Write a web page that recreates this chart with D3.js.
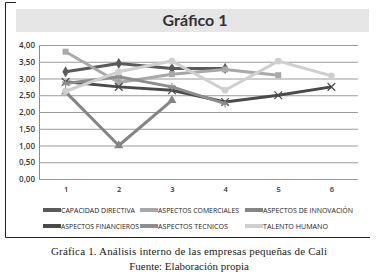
<!DOCTYPE html>
<html>
<head>
<meta charset="utf-8">
<script src="https://cdn.jsdelivr.net/npm/d3@7"></script>
<style>
  body { margin: 0; background: #fff; }
  svg { display: block; }
</style>
</head>
<body>
<svg id="chart" width="376" height="277"></svg>
<script>
// Datos
const categorias = [1, 2, 3, 4, 5, 6];
const capacidadDirectiva = [3.2, 3.45, 3.3, 3.3];
const aspectosComerciales = [3.8, 2.88, 3.13, 3.27, 3.1];
const aspectosInnovacion = [2.6, 1.0, 2.35];
const aspectosFinancieros = [2.9, 2.75, 2.65, 2.3, 2.5, 2.75];
const aspectosTecnicos = [2.85, 3.05, 2.75, 2.25];
const talentoHumano = [2.62, 3.2, 3.52, 2.65, 3.52, 3.08];
const yTicks = [0, 0.5, 1, 1.5, 2, 2.5, 3, 3.5, 4];

const series = [
  { name: "CAPACIDAD DIRECTIVA", values: capacidadDirectiva, color: "#5a5a5a", symbol: d3.symbolDiamond },
  { name: "ASPECTOS COMERCIALES", values: aspectosComerciales, color: "#a8a8a8", symbol: d3.symbolSquare },
  { name: "ASPECTOS DE INNOVACIÓN", values: aspectosInnovacion, color: "#858585", symbol: d3.symbolTriangle },
  { name: "ASPECTOS FINANCIEROS", values: aspectosFinancieros, color: "#4a4a4a", symbol: d3.symbolX },
  { name: "ASPECTOS TECNICOS", values: aspectosTecnicos, color: "#8e8e8e", symbol: d3.symbolAsterisk },
  { name: "TALENTO HUMANO", values: talentoHumano, color: "#cfcfcf", symbol: d3.symbolCircle }
];

const svg = d3.select("#chart");
const sans = "'Open Sans', 'DejaVu Sans', sans-serif";

// Marco de la figura
svg.append("path")
  .attr("d", "M16,2.5 H5.5 V237.5 H370")
  .attr("fill", "none")
  .attr("stroke", "#222")
  .attr("stroke-width", 1);

// Barra de título
svg.append("rect")
  .attr("x", 16).attr("y", 9).attr("width", 353).attr("height", 23)
  .attr("fill", "#e6e6e6");
svg.append("text")
  .attr("x", 195).attr("y", 26)
  .attr("text-anchor", "middle")
  .attr("font-family", "Lato, 'Open Sans', sans-serif")
  .attr("font-weight", "bold")
  .attr("font-size", 16)
  .attr("fill", "#333")
  .text("Gráfico 1");

const x = d3.scalePoint().domain(categorias).range([39, 358]).padding(0.5);
const y = d3.scaleLinear().domain([0, 4]).range([179, 45]);
const fmt = d3.formatLocale({ decimal: ",", thousands: ".", grouping: [3], currency: ["", ""] }).format(".2f");

// Eje Y con líneas de cuadrícula
const gy = svg.append("g")
  .attr("transform", "translate(39,0)")
  .call(d3.axisLeft(y).tickValues(yTicks).tickFormat(fmt).tickSize(-319).tickSizeOuter(0).tickPadding(4));
gy.select(".domain").attr("stroke", "#8a8a8a");
gy.selectAll(".tick line").attr("stroke", "#9a9a9a");
gy.selectAll(".tick text")
  .attr("font-family", sans)
  .attr("font-size", 8)
  .attr("font-weight", 600)
  .attr("fill", "#333");

// Eje X
const gx = svg.append("g")
  .attr("transform", "translate(0,183)")
  .call(d3.axisBottom(x).tickSize(0).tickPadding(4));
gx.select(".domain").remove();
gx.selectAll(".tick text")
  .attr("font-family", sans)
  .attr("font-size", 7.5)
  .attr("font-weight", 600)
  .attr("fill", "#333");

// Líneas y marcadores
const line = d3.line().x((d, i) => x(categorias[i])).y(d => y(d));

series.forEach(s => {
  svg.append("path")
    .datum(s.values)
    .attr("fill", "none")
    .attr("stroke", s.color)
    .attr("stroke-width", 3)
    .attr("stroke-linejoin", "round")
    .attr("d", line);

  const stroked = s.symbol === d3.symbolX || s.symbol === d3.symbolAsterisk;
  svg.selectAll(null)
    .data(s.values)
    .join("path")
    .attr("transform", (d, i) => `translate(${x(categorias[i])},${y(d)})`)
    .attr("d", d3.symbol(s.symbol, stroked ? 40 : 36))
    .attr("fill", stroked ? "none" : s.color)
    .attr("stroke", stroked ? s.color : "none")
    .attr("stroke-width", 1.2);
});

// Leyenda
const legendPos = [
  { x: 43, y: 210, w: 74 }, { x: 140, y: 210, w: 81 }, { x: 245, y: 210, w: 90 },
  { x: 43, y: 226, w: 78 }, { x: 140, y: 226, w: 70 }, { x: 245, y: 226, w: 65 }
];
series.forEach((s, i) => {
  const p = legendPos[i];
  svg.append("line")
    .attr("x1", p.x).attr("x2", p.x + 18)
    .attr("y1", p.y).attr("y2", p.y)
    .attr("stroke", s.color)
    .attr("stroke-width", 4);
  svg.append("text")
    .attr("x", p.x + 18).attr("y", p.y + 3)
    .attr("font-family", sans)
    .attr("font-size", 7.5)
    .attr("textLength", p.w)
    .attr("lengthAdjust", "spacingAndGlyphs")
    .attr("fill", "#222")
    .text(s.name);
});

// Pie de figura
svg.append("text")
  .attr("x", 189).attr("y", 255)
  .attr("text-anchor", "middle")
  .attr("font-family", "'Liberation Serif', 'DejaVu Serif', serif")
  .attr("font-size", 11)
  .attr("textLength", 276)
  .attr("fill", "#222")
  .text("Gráfica 1. Análisis interno de las empresas pequeñas de Cali");
svg.append("text")
  .attr("x", 189).attr("y", 270)
  .attr("text-anchor", "middle")
  .attr("font-family", "'Liberation Serif', 'DejaVu Serif', serif")
  .attr("font-size", 11)
  .attr("fill", "#222")
  .text("Fuente: Elaboración propia");
</script>
</body>
</html>
